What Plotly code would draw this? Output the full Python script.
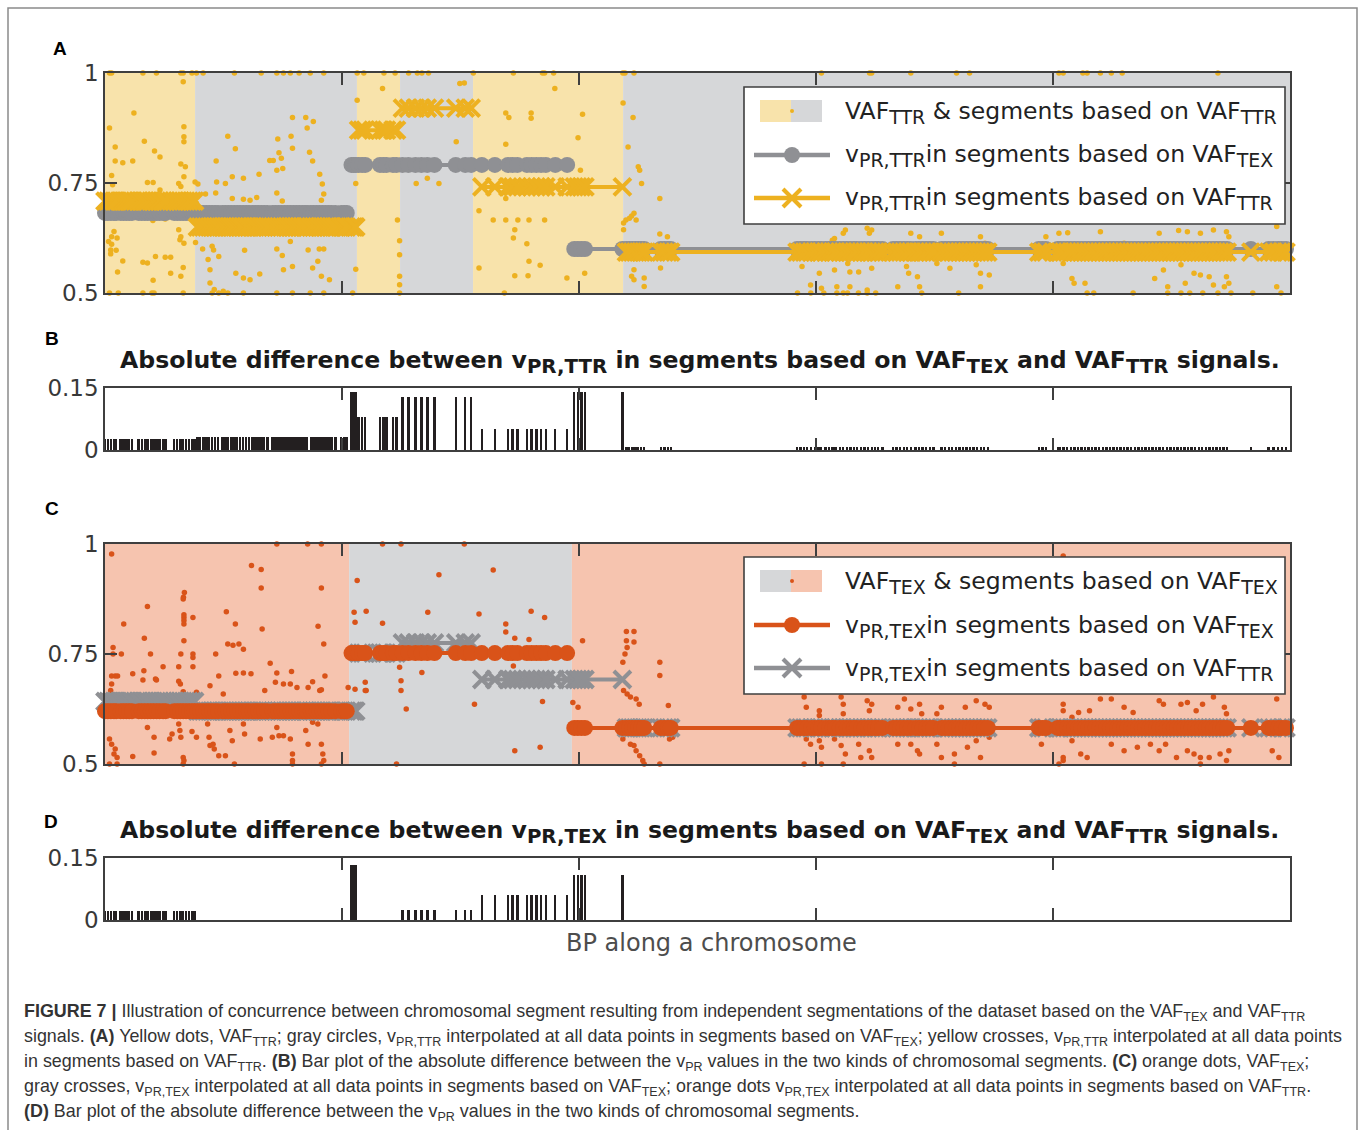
import plotly.graph_objects as go

# ------------------------------------------------------------------ data
# positions of the data points along the chromosome (Mb)
bp = [0.0, 0.12, 0.25, 0.38, 0.47, 0.66, 0.78, 0.9, 1.02, 1.14, 1.42, 1.55, 1.68, 1.8, 1.93,
      2.05, 2.18, 2.3, 2.45, 2.56, 2.92, 3.05, 3.18, 3.3, 3.42, 3.55, 3.68, 3.78, 3.9, 4.02,
      4.15, 4.28, 4.4, 4.52, 4.65, 4.77, 4.96, 5.08, 5.2, 5.33, 5.46, 5.58, 5.7, 5.83, 5.96,
      6.07, 6.22, 6.35, 6.47, 6.6, 6.72, 6.85, 7.07, 7.2, 7.32, 7.45, 7.58, 7.7, 7.83, 7.95,
      8.08, 8.2, 8.33, 8.45, 8.52, 8.68, 8.8, 8.93, 9.05, 9.18, 9.3, 9.43, 9.55, 9.72, 9.97,
      10.1, 10.2,
      10.4, 10.5, 10.58, 10.7, 10.85, 10.98, 11.6, 11.75, 11.88, 12.15, 12.3, 12.55, 12.8,
      13.1, 13.35, 13.6, 13.9, 14.8, 15.2, 15.45, 15.9, 16.45, 17.0, 17.2, 17.4, 17.8, 18.0,
      18.2, 18.4, 18.6, 19.0, 19.5, 19.8, 19.95, 20.1, 20.25, 21.83,
      22.0, 22.12, 22.25, 22.38, 22.5, 22.62, 22.75, 23.45, 23.6, 23.75, 23.87,
      29.2, 29.35, 29.5, 29.62, 29.8, 29.95, 30.1, 30.22, 30.4, 30.55, 30.7, 30.82, 31.0,
      31.15, 31.3, 31.45, 31.6, 31.72, 31.9, 32.05, 32.2, 32.35, 32.5, 32.62, 32.8, 33.25,
      33.4, 33.55, 33.7, 33.85, 34.0, 34.2, 34.35, 34.5, 34.65, 34.8, 34.95, 35.3, 35.45,
      35.6, 35.75, 35.9, 36.05, 36.2, 36.35, 36.5, 36.65, 36.8, 36.95, 37.1, 37.25,
      39.4, 39.55, 39.7, 40.2, 40.3, 40.45, 40.6, 40.75, 40.9, 41.05, 41.2, 41.35, 41.5,
      41.65, 41.8, 41.95, 42.1, 42.25, 42.4, 42.55, 42.7, 42.85, 43.0, 43.15, 43.3, 43.45,
      43.6, 43.75, 43.9, 44.05, 44.2, 44.35, 44.5, 44.65, 44.8, 44.95, 45.1, 45.25, 45.4,
      45.55, 45.7, 45.85, 46.0, 46.15, 46.3, 46.45, 46.6, 46.75, 46.9, 47.05, 47.2, 47.35,
      48.35, 49.1, 49.3, 49.5, 49.65, 49.83]

# segment boundaries (Mb)
ttr_bounds = [0, 3.8, 10.63, 12.45, 15.53, 21.86, 50]
tex_bounds = [0, 10.3, 19.7, 50]

# v_PR,TTR per segment
vttr_in_tex = [0.682, 0.791, 0.600]
vttr_in_ttr = [0.709, 0.650, 0.870, 0.920, 0.741, 0.593]
# v_PR,TEX per segment
vtex_in_tex = [0.620, 0.752, 0.582]
vtex_in_ttr = [0.642, 0.620, 0.752, 0.775, 0.692, 0.582]

# VAF_TTR signal (position Mb, value) -- panel A dots
vaf_ttr = [
    (0.19, 1.0), (0.28, 1.0), (1.6, 1.0), (2.17, 1.0), (3.2, 1.0), (3.3, 1.0), (3.67, 1.0),
    (3.86, 1.0), (4.14, 1.0), (5.46, 1.0), (6.59, 1.0), (7.25, 1.0), (7.53, 1.0), (7.82, 1.0),
    (8.19, 1.0), (8.66, 1.0), (9.23, 1.0), (10.64, 1.0), (10.92, 1.0), (11.77, 1.0),
    (12.24, 1.0), (12.81, 1.0), (13.18, 1.0), (13.37, 1.0), (13.65, 1.0), (15.54, 1.0),
    (17.23, 1.0), (18.46, 1.0), (18.55, 1.0), (18.93, 1.0), (21.85, 1.0), (21.94, 1.0),
    (22.32, 1.0), (30.23, 1.0), (32.26, 1.0), (32.35, 1.0), (34.0, 1.0), (35.93, 1.0),
    (36.48, 1.0), (40.25, 1.0), (40.43, 1.0), (41.26, 1.0), (41.44, 1.0), (42.0, 1.0),
    (42.46, 1.0), (42.92, 1.0), (46.96, 1.0),
    (0.19, 0.5), (0.56, 0.5), (1.6, 0.5), (1.98, 0.5), (2.07, 0.5), (3.3, 0.5), (4.52, 0.5),
    (4.8, 0.5), (5.18, 0.5), (5.84, 0.5), (7.25, 0.5), (7.91, 0.5), (8.66, 0.5), (9.23, 0.5),
    (10.45, 0.5), (12.43, 0.5), (16.85, 0.5), (29.22, 0.5), (29.78, 0.5), (30.33, 0.5),
    (30.88, 0.5), (31.15, 0.5), (31.33, 0.5), (31.79, 0.5), (32.16, 0.5), (32.52, 0.5),
    (34.46, 0.5), (36.02, 0.5), (41.44, 0.5), (41.72, 0.5), (43.38, 0.5), (44.84, 0.5),
    (45.4, 0.5), (45.77, 0.5), (46.32, 0.5), (46.96, 0.5), (47.51, 0.5), (48.43, 0.5),
    (49.62, 0.5),
    (3.3, 0.980), (1.22, 0.909), (0.19, 0.875), (0.43, 0.832), (1.66, 0.845), (2.09, 0.823),
    (2.32, 0.809), (3.33, 0.878), (3.33, 0.855), (3.33, 0.844), (0.43, 0.800), (0.75, 0.796),
    (1.17, 0.800), (3.2, 0.793), (3.39, 0.787), (3.33, 0.764), (0.28, 0.767), (0.32, 0.746),
    (1.79, 0.751), (2.03, 0.751), (2.32, 0.734), (3.11, 0.749), (3.2, 0.742), (3.8, 0.752),
    (3.92, 0.748), (4.71, 0.752), (5.08, 0.749), (5.37, 0.764), (5.84, 0.761), (6.5, 0.770),
    (7.25, 0.779), (7.34, 0.819), (7.29, 0.850), (7.85, 0.856), (7.91, 0.899), (8.47, 0.899),
    (8.53, 0.875), (8.79, 0.890), (5.18, 0.856), (5.5, 0.828), (4.69, 0.800), (6.95, 0.801),
    (7.1, 0.801), (7.44, 0.806), (7.91, 0.829), (8.63, 0.820), (8.76, 0.800), (9.06, 0.770),
    (9.17, 0.748), (9.23, 0.725), (9.13, 0.711), (7.5, 0.783), (6.4, 0.717), (6.12, 0.711),
    (5.84, 0.713), (5.37, 0.715), (4.67, 0.727), (4.24, 0.725), (7.25, 0.727), (7.48, 0.709),
    (3.86, 0.704), (3.67, 0.704), (3.15, 0.704), (4.71, 0.689), (3.67, 0.674), (2.54, 0.668),
    (2.02, 0.665), (0.47, 0.677), (0.38, 0.640), (0.28, 0.628), (0.15, 0.617), (0.28, 0.611),
    (0.51, 0.625), (3.11, 0.644), (3.2, 0.628), (3.16, 0.621), (3.33, 0.613), (3.82, 0.615),
    (4.12, 0.600), (4.58, 0.598), (4.52, 0.606), (4.8, 0.583), (4.35, 0.576), (4.43, 0.553),
    (4.43, 0.523), (4.61, 0.508), (4.99, 0.504), (5.89, 0.597), (5.52, 0.545), (5.84, 0.534),
    (6.12, 0.530), (6.53, 0.543), (7.53, 0.553), (7.91, 0.560), (7.25, 0.600), (7.48, 0.585),
    (7.82, 0.617), (8.57, 0.598), (9.04, 0.600), (9.23, 0.600), (8.76, 0.557), (8.98, 0.572),
    (9.13, 0.538), (9.47, 0.530), (0.75, 0.573), (1.6, 0.570), (1.79, 0.568), (2.13, 0.583),
    (2.54, 0.581), (2.77, 0.581), (2.77, 0.545), (3.3, 0.558), (3.2, 0.538), (2.03, 0.529),
    (0.53, 0.548), (0.24, 0.598), (0.24, 0.589), (0.47, 0.597),
    (10.64, 0.938), (11.71, 0.965), (14.97, 0.976), (15.16, 0.977), (14.82, 0.844),
    (13.13, 0.749), (13.6, 0.761), (14.09, 0.749), (10.58, 0.749), (12.34, 0.666),
    (12.43, 0.619), (12.43, 0.587), (10.58, 0.554), (12.43, 0.538), (12.43, 0.519),
    (16.91, 0.909), (17.04, 0.899), (17.98, 0.909), (17.98, 0.897), (18.98, 0.965),
    (20.15, 0.906), (19.96, 0.853), (16.91, 0.838), (15.78, 0.687), (16.38, 0.666),
    (16.91, 0.666), (17.42, 0.666), (17.89, 0.666), (18.55, 0.666), (17.29, 0.644),
    (17.23, 0.625), (17.8, 0.612), (17.89, 0.572), (18.36, 0.563), (15.78, 0.557),
    (17.29, 0.539), (17.85, 0.539), (19.49, 0.534), (20.24, 0.545), (16.91, 0.715),
    (20.06, 0.779), (19.96, 0.749),
    (21.86, 0.932), (22.28, 0.899), (22.07, 0.832), (22.5, 0.787), (22.56, 0.779),
    (22.64, 0.749), (21.88, 0.659), (21.98, 0.666), (22.13, 0.670), (22.22, 0.675),
    (22.41, 0.666), (22.32, 0.681), (21.88, 0.644), (22.32, 0.553), (22.22, 0.538),
    (22.32, 0.530), (22.75, 0.534), (22.75, 0.515), (23.41, 0.715), (23.41, 0.634),
    (23.73, 0.628), (23.44, 0.557),
    (30.69, 0.620), (31.15, 0.636), (32.16, 0.647), (32.35, 0.643), (34.0, 0.636),
    (34.37, 0.628), (35.29, 0.636), (36.94, 0.628), (37.13, 0.613), (39.7, 0.628),
    (40.25, 0.636), (40.62, 0.637), (42.0, 0.639), (43.0, 0.613), (44.48, 0.636),
    (45.3, 0.642), (45.67, 0.639), (46.22, 0.636), (46.77, 0.643), (47.32, 0.639),
    (47.42, 0.628), (49.44, 0.651), (45.76, 0.677), (30.78, 0.624), (31.24, 0.643),
    (32.25, 0.636),
    (29.41, 0.560), (30.14, 0.545), (30.78, 0.552), (31.34, 0.567), (31.43, 0.548),
    (31.8, 0.548), (32.35, 0.556), (33.82, 0.560), (33.91, 0.545), (34.28, 0.537),
    (35.1, 0.567), (35.65, 0.556), (36.76, 0.564), (36.94, 0.545), (37.31, 0.541),
    (40.43, 0.567), (40.8, 0.533), (41.35, 0.522), (44.29, 0.533), (44.66, 0.552),
    (45.4, 0.564), (45.95, 0.545), (46.22, 0.541), (46.59, 0.537), (46.77, 0.518),
    (47.32, 0.537), (47.42, 0.522), (49.44, 0.514), (29.77, 0.518), (30.23, 0.511),
    (30.88, 0.514), (31.43, 0.514), (32.16, 0.507), (33.45, 0.514), (34.37, 0.514),
    (36.94, 0.514), (40.89, 0.522), (44.84, 0.514), (45.58, 0.522), (47.23, 0.514),
]

# VAF_TEX signal (position Mb, value) -- panel C dots
vaf_tex = [
    (7.25, 1.0), (8.55, 1.0), (9.13, 1.0), (11.71, 1.0), (12.49, 1.0), (15.16, 1.0),
    (0.19, 0.5), (0.51, 0.5), (3.3, 0.5), (5.46, 0.5), (7.91, 0.5), (9.13, 0.5), (12.3, 0.5),
    (22.75, 0.5), (23.41, 0.5), (29.5, 0.5), (30.23, 0.5), (31.15, 0.5), (35.84, 0.5),
    (40.25, 0.5), (46.22, 0.5),
    (0.28, 0.977), (6.18, 0.951), (6.59, 0.942), (6.59, 0.900), (3.35, 0.890), (3.31, 0.879),
    (3.3, 0.875), (9.13, 0.900), (1.79, 0.858), (0.79, 0.818), (3.33, 0.839), (3.33, 0.833),
    (3.33, 0.826), (3.33, 0.818), (3.71, 0.833), (5.12, 0.846), (5.5, 0.818), (6.63, 0.807),
    (8.99, 0.813), (1.66, 0.786), (3.33, 0.780), (5.18, 0.773), (5.4, 0.770), (5.65, 0.773),
    (5.84, 0.761), (9.23, 0.773), (0.34, 0.765), (0.34, 0.750), (0.69, 0.750), (1.92, 0.750),
    (3.2, 0.750), (3.71, 0.750), (3.71, 0.742), (4.67, 0.750), (2.45, 0.721), (3.11, 0.721),
    (3.71, 0.721), (6.97, 0.729), (0.28, 0.700), (0.43, 0.700), (0.53, 0.700), (1.17, 0.705),
    (1.64, 0.712), (2.13, 0.693), (4.8, 0.700), (5.52, 0.706), (5.84, 0.707), (6.16, 0.705),
    (7.25, 0.707), (7.87, 0.710), (9.28, 0.700), (3.11, 0.688), (3.18, 0.682), (4.43, 0.678),
    (4.99, 0.659), (6.74, 0.667), (7.19, 0.686), (7.53, 0.682), (7.82, 0.682), (8.1, 0.674),
    (8.57, 0.674), (8.76, 0.687), (9.06, 0.667), (9.13, 0.669), (0.28, 0.682), (0.24, 0.667),
    (0.15, 0.655), (1.6, 0.691), (2.17, 0.691), (3.86, 0.663), (3.3, 0.664), (10.26, 0.674),
    (10.55, 0.670), (11.02, 0.667),
    (0.19, 0.557), (0.28, 0.545), (0.38, 0.523), (0.51, 0.515), (0.43, 0.534), (1.17, 0.517),
    (1.79, 0.583), (2.07, 0.561), (2.07, 0.525), (2.73, 0.557), (2.83, 0.568), (3.11, 0.591),
    (3.16, 0.576), (3.2, 0.561), (3.3, 0.515), (3.33, 0.508), (3.67, 0.574), (3.86, 0.561),
    (4.33, 0.591), (4.39, 0.561), (4.43, 0.542), (4.56, 0.545), (4.61, 0.534), (4.8, 0.519),
    (5.08, 0.519), (5.27, 0.576), (5.37, 0.553), (5.84, 0.591), (5.89, 0.568), (6.55, 0.557),
    (7.06, 0.561), (7.25, 0.583), (7.34, 0.564), (7.53, 0.564), (7.82, 0.557), (7.91, 0.523),
    (7.91, 0.508), (8.47, 0.576), (8.57, 0.545), (8.76, 0.595), (8.98, 0.591), (9.13, 0.545),
    (9.19, 0.523), (9.23, 0.508),
    (10.64, 0.917), (10.51, 0.845), (11.02, 0.847), (10.55, 0.822), (11.71, 0.820),
    (14.09, 0.930), (13.62, 0.845), (15.78, 0.841), (16.38, 0.941), (17.98, 0.847),
    (18.55, 0.833), (16.91, 0.818), (16.91, 0.800), (17.29, 0.786), (17.89, 0.783),
    (12.43, 0.720), (12.49, 0.689), (12.49, 0.667), (13.37, 0.708), (12.71, 0.625),
    (15.59, 0.636), (17.23, 0.723), (17.23, 0.682), (18.46, 0.642), (17.29, 0.530),
    (18.36, 0.538), (10.98, 0.686), (10.98, 0.667),
    (20.15, 0.780), (19.74, 0.640), (19.96, 0.629), (21.85, 0.731), (21.94, 0.750),
    (22.03, 0.765), (22.0, 0.801), (22.32, 0.801), (22.0, 0.780), (22.32, 0.777),
    (23.41, 0.731), (23.41, 0.701), (23.77, 0.633), (21.88, 0.667), (22.03, 0.659),
    (22.17, 0.652), (22.41, 0.648), (22.54, 0.636), (21.85, 0.557), (22.17, 0.545),
    (22.32, 0.542), (22.41, 0.530), (22.56, 0.519), (22.69, 0.508), (23.82, 0.557),
    (23.95, 0.561),
    (29.5, 0.652), (29.59, 0.629), (30.14, 0.621), (30.14, 0.610), (31.06, 0.652),
    (31.15, 0.636), (31.15, 0.614), (32.16, 0.644), (32.25, 0.621), (32.35, 0.636),
    (33.45, 0.629), (33.73, 0.648), (34.0, 0.625), (34.37, 0.636), (34.46, 0.614),
    (35.1, 0.614), (35.29, 0.629), (36.3, 0.629), (36.76, 0.644), (37.13, 0.636),
    (37.31, 0.629), (40.43, 0.636), (40.43, 0.621), (40.8, 0.606), (41.08, 0.617),
    (41.54, 0.621), (42.0, 0.648), (42.46, 0.648), (43.0, 0.629), (43.38, 0.617),
    (44.48, 0.644), (44.66, 0.636), (45.4, 0.636), (45.67, 0.640), (46.04, 0.621),
    (46.31, 0.636), (46.77, 0.652), (47.23, 0.629), (47.32, 0.614), (49.44, 0.648),
    (40.43, 0.973),
    (29.59, 0.557), (29.77, 0.545), (30.14, 0.553), (30.23, 0.538), (30.78, 0.557),
    (31.06, 0.542), (31.24, 0.523), (31.8, 0.545), (31.89, 0.515), (32.25, 0.530),
    (32.35, 0.515), (33.45, 0.545), (34.0, 0.545), (34.28, 0.530), (34.37, 0.523),
    (35.1, 0.545), (35.29, 0.515), (35.84, 0.523), (36.39, 0.538), (36.76, 0.553),
    (36.94, 0.515), (37.31, 0.561), (39.51, 0.545), (40.43, 0.515), (40.43, 0.508),
    (40.8, 0.553), (41.17, 0.523), (41.44, 0.515), (42.46, 0.545), (43.0, 0.530),
    (43.56, 0.538), (44.11, 0.545), (44.48, 0.530), (44.75, 0.545), (45.21, 0.515),
    (45.67, 0.530), (45.95, 0.523), (46.22, 0.515), (46.59, 0.515), (47.05, 0.523),
    (47.32, 0.508), (47.42, 0.530), (49.25, 0.530), (49.53, 0.515),
]

x_ticks = [10, 20, 30, 40]
yticks_vaf = [0.5, 0.75, 1]
yticks_vaf_text = ['0.5', '0.75', '1']
yticks_diff = [0, 0.15]
yticks_diff_text = ['0', '0.15']

# ------------------------------------------------------------------ styles
W, H = 1360, 1130
YEL = '#EDB120'
ORA = '#D95319'
GRY = '#8F9094'
YEL_BG = '#F8E3AB'
GRY_BG = '#D6D7D9'
ORA_BG = '#F6C4AF'
AX = '#3F3F3F'
FONT = 'DejaVu Sans'


def fx(px):
    return px / W


def fy(py):
    return 1 - py / H


def seg(x, bounds):
    for i in range(len(bounds) - 1):
        if bounds[i] <= x < bounds[i + 1]:
            return i
    return len(bounds) - 2


def seg_series(xs, bounds, vals):
    X, Y, prev = [], [], None
    for x in xs:
        i = seg(x, bounds)
        if prev is not None and i != prev:
            X.append(None)
            Y.append(None)
        X.append(x)
        Y.append(vals[i])
        prev = i
    return X, Y


diff_B = [abs(vttr_in_tex[seg(x, tex_bounds)] - vttr_in_ttr[seg(x, ttr_bounds)]) for x in bp]
diff_D = [abs(vtex_in_tex[seg(x, tex_bounds)] - vtex_in_ttr[seg(x, ttr_bounds)]) for x in bp]

fig = go.Figure()
MS_C, MS_X, MS_D = 16, 17, 5.5

# panel A
fig.add_trace(go.Scatter(x=[p[0] for p in vaf_ttr], y=[p[1] for p in vaf_ttr], mode='markers',
                         marker=dict(size=MS_D, color=YEL), cliponaxis=False, xaxis='x', yaxis='y'))
gx, gy = seg_series(bp, tex_bounds, vttr_in_tex)
fig.add_trace(go.Scatter(x=gx, y=gy, mode='lines+markers', line=dict(color=GRY, width=4),
                         marker=dict(symbol='circle', size=MS_C, color=GRY), cliponaxis=False,
                         xaxis='x', yaxis='y'))
cx, cy = seg_series(bp, ttr_bounds, vttr_in_ttr)
fig.add_trace(go.Scatter(x=cx, y=cy, mode='lines+markers', line=dict(color=YEL, width=4),
                         marker=dict(symbol='x-thin', size=MS_X, color=YEL,
                                     line=dict(color=YEL, width=4)),
                         cliponaxis=False, xaxis='x', yaxis='y'))
# panel B
fig.add_trace(go.Bar(x=bp, y=diff_B, width=0.1, marker=dict(color='#231F20', line=dict(width=0)),
                     xaxis='x2', yaxis='y2'))
# panel C
fig.add_trace(go.Scatter(x=[p[0] for p in vaf_tex], y=[p[1] for p in vaf_tex], mode='markers',
                         marker=dict(size=MS_D, color=ORA), cliponaxis=False, xaxis='x3', yaxis='y3'))
cx, cy = seg_series(bp, ttr_bounds, vtex_in_ttr)
fig.add_trace(go.Scatter(x=cx, y=cy, mode='lines+markers', line=dict(color=GRY, width=4),
                         marker=dict(symbol='x-thin', size=MS_X, color=GRY,
                                     line=dict(color=GRY, width=4)),
                         cliponaxis=False, xaxis='x3', yaxis='y3'))
ox, oy = seg_series(bp, tex_bounds, vtex_in_tex)
fig.add_trace(go.Scatter(x=ox, y=oy, mode='lines+markers', line=dict(color=ORA, width=4),
                         marker=dict(symbol='circle', size=MS_C, color=ORA), cliponaxis=False,
                         xaxis='x3', yaxis='y3'))
# panel D
fig.add_trace(go.Bar(x=bp, y=diff_D, width=0.1, marker=dict(color='#231F20', line=dict(width=0)),
                     xaxis='x4', yaxis='y4'))

# ------------------------------------------------------------------ axes
panels = [(73, 293), (388, 450), (544, 764), (858, 920)]
common = dict(showline=True, linecolor=AX, linewidth=1.6, mirror='allticks', ticks='inside',
              ticklen=12, tickwidth=1.6, tickcolor=AX, showgrid=False, zeroline=False,
              automargin=False)
layout = {}
for k, (top, bot) in enumerate(panels):
    n = '' if k == 0 else str(k + 1)
    layout['xaxis' + n] = dict(common, domain=[fx(105), fx(1290)], range=[0, 50],
                               tickvals=x_ticks, showticklabels=False, anchor='y' + n)
    if k in (0, 2):
        yv, yt, yr = yticks_vaf, yticks_vaf_text, [0.5, 1]
    else:
        yv, yt, yr = yticks_diff, yticks_diff_text, [0, 0.15]
    layout['yaxis' + n] = dict(common, domain=[fy(bot), fy(top)], range=yr, tickvals=yv,
                               ticktext=yt, anchor='x' + n, ticklabelstandoff=0,
                               tickfont=dict(family=FONT, size=23, color='#383838'))

shapes = []
for i in range(len(ttr_bounds) - 1):
    shapes.append(dict(type='rect', xref='x', yref='y domain', x0=ttr_bounds[i],
                       x1=ttr_bounds[i + 1], y0=0, y1=1, line=dict(width=0), layer='below',
                       fillcolor=YEL_BG if i % 2 == 0 else GRY_BG))
for i in range(len(tex_bounds) - 1):
    shapes.append(dict(type='rect', xref='x3', yref='y3 domain', x0=tex_bounds[i],
                       x1=tex_bounds[i + 1], y0=0, y1=1, line=dict(width=0), layer='below',
                       fillcolor=ORA_BG if i % 2 == 0 else GRY_BG))

# outer frame
shapes.append(dict(type='rect', xref='paper', yref='paper', x0=fx(8), x1=fx(1357), y0=fy(1140),
                   y1=fy(8), line=dict(color='#8a8a8a', width=1.5), fillcolor='rgba(0,0,0,0)'))


def P(px, py):
    return dict(xref='paper', yref='paper', x0=fx(px[0]), x1=fx(px[1]), y0=fy(py[1]), y1=fy(py[0]))


annotations = []


def sub(s, size=19):
    return '<sub><span style="font-size:%gpx">%s</span></sub>' % (size, s)


def add_legend(top, patch_left, patch_right, dot_col, l2_col, l2_sym, l3_col, l3_sym, texts):
    shapes.append(dict(type='rect', **P((744, 1285), (top, top + 137)), fillcolor='white',
                       line=dict(color=AX, width=1.6), layer='above'))
    r1, r2, r3 = top + 24, top + 68, top + 111
    shapes.append(dict(type='rect', **P((760, 791), (r1 - 11, r1 + 11)), fillcolor=patch_left,
                       line=dict(width=0), layer='above'))
    shapes.append(dict(type='rect', **P((791, 822), (r1 - 11, r1 + 11)), fillcolor=patch_right,
                       line=dict(width=0), layer='above'))
    shapes.append(dict(type='circle', **P((790, 794), (r1 - 2, r1 + 2)), fillcolor=dot_col,
                       line=dict(width=0), layer='above'))
    for (ry, col, sym) in ((r2, l2_col, l2_sym), (r3, l3_col, l3_sym)):
        shapes.append(dict(type='line', xref='paper', yref='paper', x0=fx(754), x1=fx(830),
                           y0=fy(ry), y1=fy(ry), line=dict(color=col, width=4.5), layer='above'))
        if sym == 'circle':
            shapes.append(dict(type='circle', **P((784, 800), (ry - 8, ry + 8)), fillcolor=col,
                               line=dict(width=0), layer='above'))
        else:
            for a, b in ((-9, 9), (9, -9)):
                shapes.append(dict(type='line', xref='paper', yref='paper', x0=fx(792 - 9),
                                   x1=fx(792 + 9), y0=fy(ry + a), y1=fy(ry + b),
                                   line=dict(color=col, width=4), layer='above'))
    for ry, t in zip((r1, r2, r3), texts):
        annotations.append(dict(xref='paper', yref='paper', x=fx(843), y=fy(ry + 1), text=t,
                                showarrow=False, xanchor='left', yanchor='middle',
                                font=dict(family=FONT, size=23.5, color='#222222')))


add_legend(87, YEL_BG, GRY_BG, YEL, GRY, 'circle', YEL, 'x',
           ['VAF' + sub('TTR') + ' &amp; segments based on VAF' + sub('TTR'),
            'v' + sub('PR,TTR') + 'in segments based on VAF' + sub('TEX'),
            'v' + sub('PR,TTR') + 'in segments based on VAF' + sub('TTR')])
add_legend(557, GRY_BG, ORA_BG, ORA, ORA, 'circle', GRY, 'x',
           ['VAF' + sub('TEX') + ' &amp; segments based on VAF' + sub('TEX'),
            'v' + sub('PR,TEX') + 'in segments based on VAF' + sub('TEX'),
            'v' + sub('PR,TEX') + 'in segments based on VAF' + sub('TTR')])

# panel letters
for letter, (px, py) in zip('ABCD', [(60, 48), (52, 338), (52, 508), (51, 821)]):
    annotations.append(dict(xref='paper', yref='paper', x=fx(px), y=fy(py), text='<b>%s</b>' % letter,
                            showarrow=False, xanchor='center', yanchor='middle',
                            font=dict(family='Liberation Sans', size=19, color='black')))

# panel titles
for kind, py in (('TTR', 362), ('TEX', 832)):
    t = ('<b>Absolute difference between v' + sub('PR,' + kind, 19.8) +
         ' in segments based on VAF' + sub('TEX', 19.8) + ' and VAF' + sub('TTR', 19.8) +
         ' signals.</b>')
    annotations.append(dict(xref='paper', yref='paper', x=fx(700), y=fy(py), text=t,
                            showarrow=False, xanchor='center', yanchor='middle',
                            font=dict(family=FONT, size=23.6, color='#1a1a1a')))

annotations.append(dict(xref='paper', yref='paper', x=fx(711), y=fy(943),
                        text='BP along a chromosome', showarrow=False, xanchor='center',
                        yanchor='middle', font=dict(family=FONT, size=24, color='#4d4d4d')))


# caption
def csub(s):
    return '<sub>%s</sub>' % s


caption = [
    '<b>FIGURE 7 |</b> Illustration of concurrence between chromosomal segment resulting from '
    'independent segmentations of the dataset based on the VAF' + csub('TEX') + ' and VAF' + csub('TTR'),
    'signals. <b>(A)</b> Yellow dots, VAF' + csub('TTR') + '; gray circles, v' + csub('PR,TTR') +
    ' interpolated at all data points in segments based on VAF' + csub('TEX') +
    '; yellow crosses, v' + csub('PR,TTR') + ' interpolated at all data points',
    'in segments based on VAF' + csub('TTR') + '. <b>(B)</b> Bar plot of the absolute difference '
    'between the v' + csub('PR') + ' values in the two kinds of chromosomal segments. '
    '<b>(C)</b> orange dots, VAF' + csub('TEX') + ';',
    'gray crosses, v' + csub('PR,TEX') + ' interpolated at all data points in segments based on VAF' +
    csub('TEX') + '; orange dots v' + csub('PR,TEX') +
    ' interpolated at all data points in segments based on VAF' + csub('TTR') + '.',
    '<b>(D)</b> Bar plot of the absolute difference between the v' + csub('PR') +
    ' values in the two kinds of chromosomal segments.',
]
for i, line in enumerate(caption):
    annotations.append(dict(xref='paper', yref='paper', x=fx(22), y=fy(1012 + 25 * i), text=line,
                            showarrow=False, xanchor='left', yanchor='middle',
                            font=dict(family='Liberation Sans', size=17.9, color='#333333')))

fig.update_layout(width=W, height=H, margin=dict(l=0, r=0, t=0, b=0, autoexpand=False),
                  paper_bgcolor='white', plot_bgcolor='white', showlegend=False, shapes=shapes,
                  annotations=annotations, font=dict(family=FONT), bargap=0, **layout)
fig.write_html('out.html', config={'displayModeBar': False})
